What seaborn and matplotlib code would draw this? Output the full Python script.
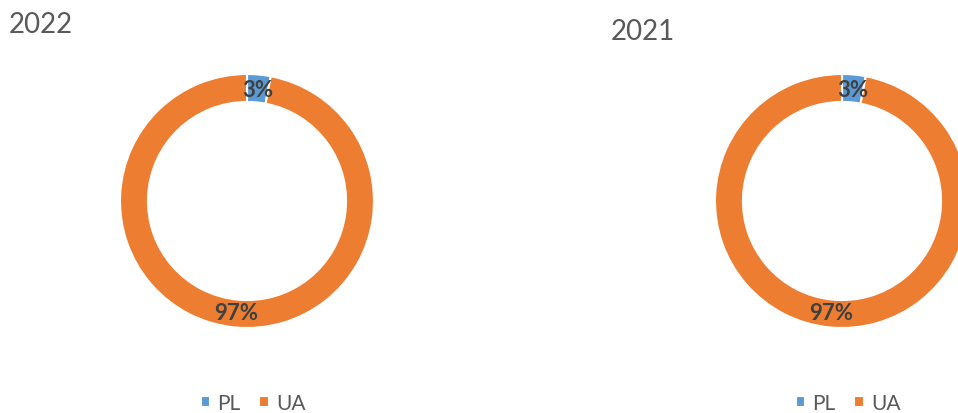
import matplotlib
matplotlib.use("Agg")
import matplotlib.pyplot as plt
import seaborn as sns

years = ["2022", "2021"]
categories = ["PL", "UA"]
shares_2022 = [3, 97]
shares_2021 = [3, 97]
colors = ["#5B9BD5", "#ED7D31"]


def draw_donut(fig, center_x, values, title, title_xy):
    W, H = 958, 414
    r = 127
    ax = fig.add_axes([(center_x - r) / W, (H - 202 - r) / H, 2 * r / W, 2 * r / H])
    wedges, texts, autotexts = ax.pie(
        values, colors=colors, startangle=90, counterclock=False,
        autopct='%.0f%%', pctdistance=0.88,
        wedgeprops=dict(width=0.22, edgecolor='white', linewidth=1.5),
        textprops=dict(fontsize=16, fontweight='bold', color='#404040'))
    ax.set_xlim(-1, 1)
    ax.set_ylim(-1, 1)
    ax.set_aspect('equal')
    ax.axis('off')
    fig.text(title_xy[0] / W, 1 - title_xy[1] / H, title, fontsize=20,
             color='#595959', va='center', ha='left')
    fig.legend(wedges, categories, loc='center', ncol=2,
               bbox_to_anchor=((center_x + 6) / W, 1 - 404 / H),
               frameon=False, fontsize=15, handlelength=0.45, handleheight=0.45,
               handletextpad=0.35, columnspacing=0.9, labelcolor='#595959')
    return ax


def main():
    sns.set_theme(style="white")
    plt.rcParams['font.family'] = ['Lato', 'DejaVu Sans']
    fig = plt.figure(figsize=(9.58, 4.14), dpi=100)
    draw_donut(fig, 247, shares_2022, years[0], (9, 25))
    draw_donut(fig, 842, shares_2021, years[1], (611, 32))
    fig.savefig("out.png", dpi=100)


if __name__ == "__main__":
    main()
